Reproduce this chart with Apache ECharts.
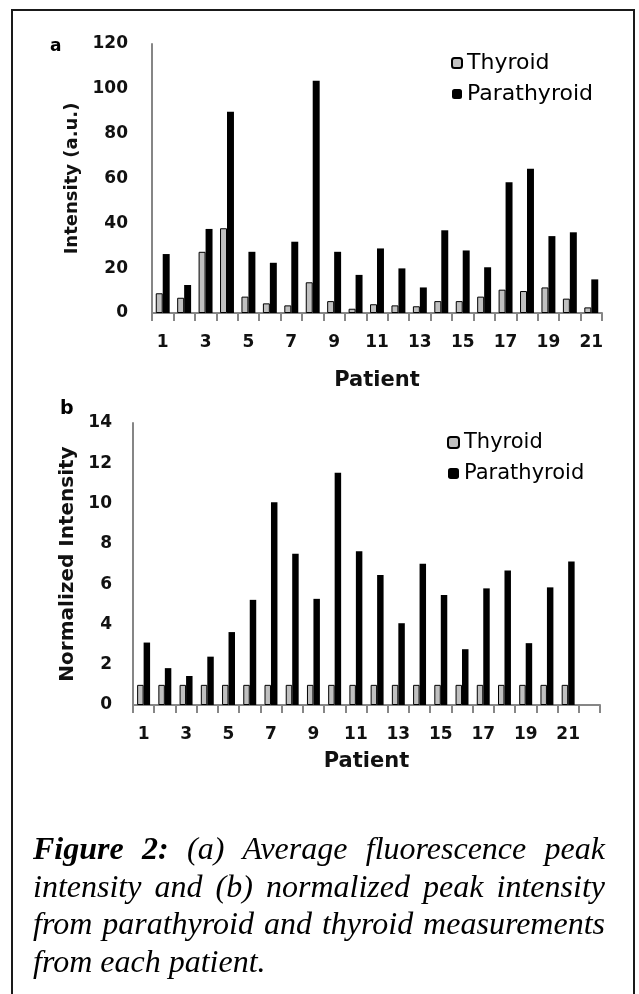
<!DOCTYPE html>
<html>
<head>
<meta charset="utf-8">
<script src="https://cdn.jsdelivr.net/npm/echarts@6/dist/echarts.min.js"></script>
<style>
html, body { margin: 0; padding: 0; background: #fff; }
#chart { width: 639px; height: 994px; }
</style>
</head>
<body>
<div id="chart"></div>
<script>
// Patient numbers on the horizontal axes
const patients = ['1','2','3','4','5','6','7','8','9','10','11','12','13','14','15','16','17','18','19','20','21'];
// Panel b keeps one empty slot after the last patient
const patientsB = ['1','2','3','4','5','6','7','8','9','10','11','12','13','14','15','16','17','18','19','20','21',''];

// Panel a: average fluorescence peak intensity (a.u.)
const thyroidA = [8.8, 6.8, 27.3, 37.8, 7.3, 4.3, 3.4, 13.7, 5.3, 1.9, 3.9, 3.4, 3.0, 5.3, 5.3, 7.3, 10.4, 9.8, 11.4, 6.4, 2.5];
const parathyroidA = [26.3, 12.5, 37.5, 89.8, 27.3, 22.4, 31.8, 103.6, 27.3, 17.0, 28.8, 19.9, 11.4, 36.9, 27.9, 20.4, 58.3, 64.4, 34.3, 36.0, 15.0];

// Panel b: intensity normalized to the thyroid reading
const thyroidB = [1, 1, 1, 1, 1, 1, 1, 1, 1, 1, 1, 1, 1, 1, 1, 1, 1, 1, 1, 1, 1];
const parathyroidB = [3.10, 1.83, 1.44, 2.40, 3.62, 5.22, 10.06, 7.51, 5.27, 11.53, 7.63, 6.45, 4.06, 7.01, 5.46, 2.77, 5.79, 6.68, 3.07, 5.84, 7.13];

// Caption lines (words of the justified lines)
const captionLines = [
  [['Figure', true], ['2:', true], ['(a)'], ['Average'], ['fluorescence'], ['peak']],
  [['intensity'], ['and'], ['(b)'], ['normalized'], ['peak'], ['intensity']],
  [['from'], ['parathyroid'], ['and'], ['thyroid'], ['measurements']],
  [['from'], ['each'], ['patient.']]
];

const AXIS_GRAY = '#868686';
const INK = '#111';
const SANS = 'DejaVu Sans';

function xAxisFor(data, gridIndex, nameGap) {
  return {
    type: 'category', gridIndex: gridIndex, data: data,
    name: 'Patient', nameLocation: 'middle', nameGap: nameGap,
    nameTextStyle: { fontFamily: SANS, fontWeight: 'bold', fontSize: 21, color: INK },
    axisLine: { show: true, lineStyle: { color: AXIS_GRAY, width: 2 } },
    axisTick: { show: true, interval: 0, length: 8, lineStyle: { color: AXIS_GRAY, width: 2 } },
    axisLabel: { interval: 1, margin: 21, fontFamily: SANS, fontWeight: 'bold', fontSize: 17, color: INK },
    splitLine: { show: false }
  };
}

function yAxisFor(gridIndex, max, interval, name, nameGap, nameSize, margin) {
  return {
    type: 'value', gridIndex: gridIndex, min: 0, max: max, interval: interval,
    name: name, nameLocation: 'middle', nameGap: nameGap,
    nameTextStyle: { fontFamily: SANS, fontWeight: 'bold', fontSize: nameSize, color: INK },
    axisLine: { show: true, lineStyle: { color: AXIS_GRAY, width: 2 } },
    axisTick: { show: false },
    axisLabel: { margin: margin, fontFamily: SANS, fontWeight: 'bold', fontSize: 17, color: INK },
    splitLine: { show: false }
  };
}

const thyroidStyle = { color: '#c0c0c0', borderColor: '#000', borderWidth: 1 };
const parathyroidStyle = { color: '#000' };

// Caption words, justified between the box margins
const measureCtx = document.createElement('canvas').getContext('2d');
const CAP_SIZE = 32;
const CAP_LEFT = 33, CAP_RIGHT = 605;
const CAP_FIRST = 851, CAP_STEP = 37.5;
function capFont(bold) {
  return 'italic ' + (bold ? 'bold ' : '') + CAP_SIZE + 'px "Liberation Serif"';
}
const captionGraphics = [];
captionLines.forEach(function (words, i) {
  const widths = words.map(function (w) { measureCtx.font = capFont(!!w[1]); return measureCtx.measureText(w[0]).width; });
  const total = widths.reduce(function (a, b) { return a + b; }, 0);
  const last = i === captionLines.length - 1;
  measureCtx.font = capFont(false);
  const gap = last ? measureCtx.measureText(' ').width : (CAP_RIGHT - CAP_LEFT - total) / (words.length - 1);
  let x = CAP_LEFT;
  words.forEach(function (w, j) {
    captionGraphics.push({
      type: 'text', x: x, y: CAP_FIRST + i * CAP_STEP,
      style: { text: w[0], font: capFont(!!w[1]), fill: '#000', textVerticalAlign: 'middle' }
    });
    x += widths[j] + gap;
  });
});

const chart = echarts.init(document.getElementById('chart'), null, { renderer: 'canvas' });
chart.setOption({
  animation: false,
  backgroundColor: '#fff',
  grid: [
    { left: 152, top: 44, width: 450, height: 269 },
    { left: 133, top: 423, width: 467, height: 282 }
  ],
  xAxis: [xAxisFor(patients, 0, 57), xAxisFor(patientsB, 1, 46)],
  yAxis: [
    yAxisFor(0, 120, 20, 'Intensity (a.u.)', 68, 18, 24),
    yAxisFor(1, 14, 2, 'Normalized Intensity', 48, 20, 21)
  ],
  legend: [
    {
      data: ['Thyroid', 'Parathyroid'], orient: 'vertical', left: 451, top: 52,
      itemWidth: 10, itemHeight: 10, itemGap: 9, padding: 0,
      textStyle: { fontFamily: SANS, fontSize: 22, lineHeight: 22, color: '#000' }
    },
    {
      data: ['Thyroid', 'Parathyroid'], orient: 'vertical', left: 447, top: 432,
      itemWidth: 11, itemHeight: 11, itemGap: 10, padding: 0,
      textStyle: { fontFamily: SANS, fontSize: 21, lineHeight: 21, color: '#000' }
    }
  ],
  series: [
    { name: 'Thyroid', type: 'bar', xAxisIndex: 0, yAxisIndex: 0, data: thyroidA, itemStyle: thyroidStyle, barGap: '0%', barCategoryGap: '35%' },
    { name: 'Parathyroid', type: 'bar', xAxisIndex: 0, yAxisIndex: 0, data: parathyroidA, itemStyle: parathyroidStyle, barGap: '0%', barCategoryGap: '35%' },
    { name: 'Thyroid', type: 'bar', xAxisIndex: 1, yAxisIndex: 1, data: thyroidB, itemStyle: thyroidStyle, barGap: '0%', barCategoryGap: '39%' },
    { name: 'Parathyroid', type: 'bar', xAxisIndex: 1, yAxisIndex: 1, data: parathyroidB, itemStyle: parathyroidStyle, barGap: '0%', barCategoryGap: '39%' }
  ],
  graphic: [
    // Frame around the figure and its caption
    { type: 'rect', shape: { x: 12, y: 10, width: 622, height: 1000 }, style: { fill: 'none', stroke: '#1a1a1a', lineWidth: 2 } },
    // Panel letters
    { type: 'text', x: 50, y: 38, style: { text: 'a', font: 'bold 17px "DejaVu Sans"', fill: '#000' } },
    { type: 'text', x: 60, y: 400, style: { text: 'b', font: 'bold 19px "DejaVu Sans"', fill: '#000' } }
  ].concat(captionGraphics)
});
</script>
</body>
</html>
